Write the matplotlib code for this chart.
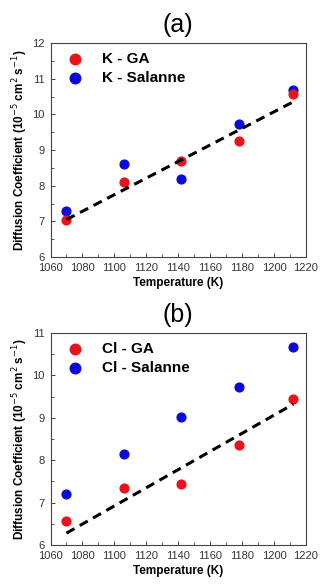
import numpy as np
import matplotlib
matplotlib.use('Agg')
import matplotlib.pyplot as plt
from matplotlib.ticker import MultipleLocator

plt.rcParams['font.family'] = ['Liberation Sans', 'DejaVu Sans']

temp = [1070, 1106, 1142, 1178, 1212]

k_ga = [7.05, 8.10, 8.70, 9.25, 10.58]
k_salanne = [7.30, 8.62, 8.20, 9.73, 10.67]
k_fit_x = [1070, 1212]
k_fit_y = [7.05, 10.35]

cl_ga = [6.57, 7.34, 7.44, 8.37, 9.44]
cl_salanne = [7.21, 8.14, 9.02, 9.73, 10.67]
cl_fit_x = [1070, 1212]
cl_fit_y = [6.28, 9.32]

fig = plt.figure(figsize=(3.28, 5.85), dpi=100)
W, H = 328, 585

ax1 = fig.add_axes([50.5/W, 1 - 257/H, 255.5/W, 214/H])
ax2 = fig.add_axes([50.5/W, 1 - 545/H, 255.5/W, 212/H])

panels = [
    (ax1, k_ga, k_salanne, k_fit_x, k_fit_y, 'K', (6, 12), '(a)'),
    (ax2, cl_ga, cl_salanne, cl_fit_x, cl_fit_y, 'Cl', (6, 11), '(b)'),
]

for ax, ga, sal, fx, fy, ion, ylim, tag in panels:
    ax.scatter(temp, sal, s=40, color='#0a0ad8', zorder=2, label=ion + ' - Salanne')
    ax.scatter(temp, ga, s=40, color='#e8141c', zorder=3, label=ion + ' - GA')
    ax.plot(fx, fy, ls=(0, (3.0, 2.0)), color='black', lw=2.2, zorder=4)
    ax.set_xlim(1060, 1220)
    ax.set_ylim(*ylim)
    ax.xaxis.set_major_locator(MultipleLocator(20))
    ax.xaxis.set_minor_locator(MultipleLocator(10))
    ax.yaxis.set_major_locator(MultipleLocator(1))
    ax.yaxis.set_minor_locator(MultipleLocator(0.5))
    ax.tick_params(which='major', direction='in', length=3, width=0.7,
                   labelsize=8, colors='#444444', labelcolor='#333333', pad=4)
    ax.tick_params(which='minor', direction='in', length=2, width=0.6, colors='#444444')
    for sp in ax.spines.values():
        sp.set_color('#444444')
        sp.set_linewidth(0.8)
    ax.set_xlabel('Temperature (K)', fontsize=8.5, fontweight='bold', labelpad=3)
    ax.set_ylabel('Diffusion Coefficient (10$^{-5}$ cm$^{2}$ s$^{-1}$)',
                  fontsize=8.5, fontweight='bold', labelpad=2)
    ax.set_title(tag, fontsize=18, pad=8)
    handles, labels = ax.get_legend_handles_labels()
    ax.legend(handles[::-1], labels[::-1], loc='upper left', frameon=False,
              handletextpad=0.8, borderaxespad=0.2, labelspacing=0.3,
              markerscale=1.2, prop={'weight': 'bold', 'size': 11})

fig.savefig('out.png', dpi=100)
